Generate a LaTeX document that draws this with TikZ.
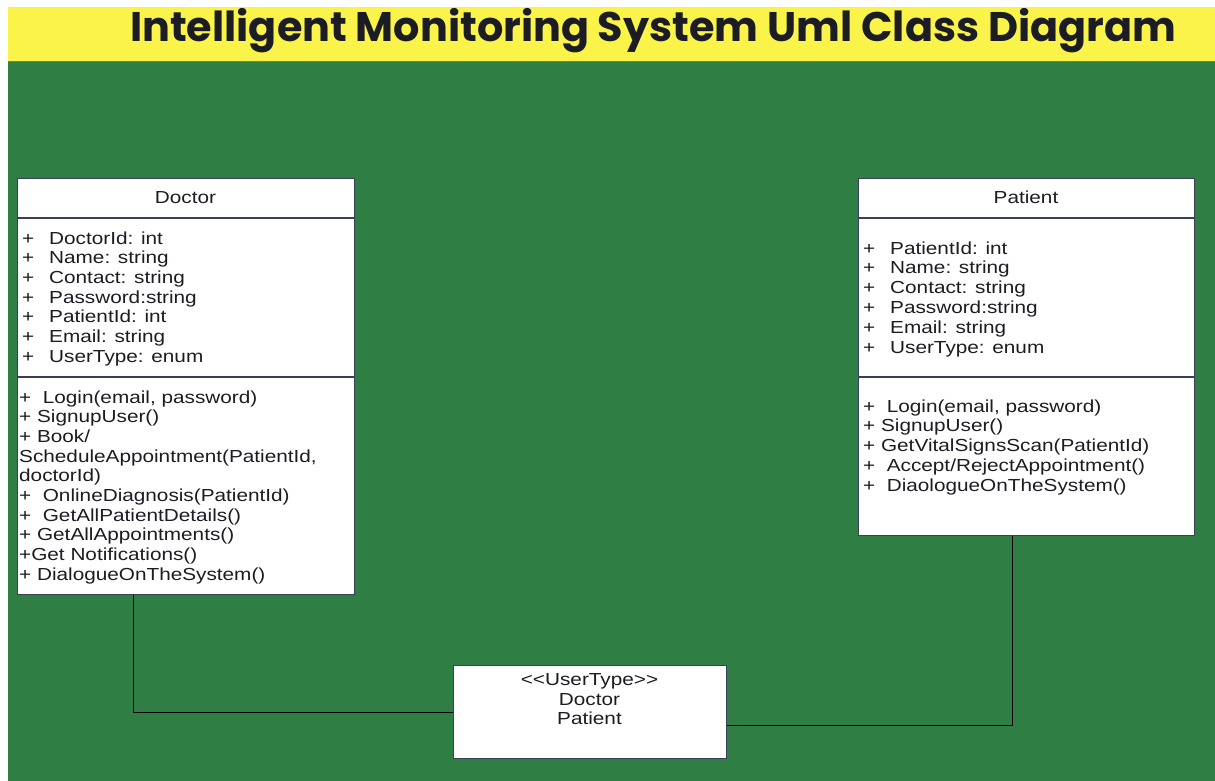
\documentclass[tikz,border=0pt]{standalone}
\usepackage{fontspec}
\setmainfont{Liberation Sans}[FakeStretch=1.19]
\newfontfamily\titlefont{Poppins}
\usetikzlibrary{positioning}

\definecolor{banner}{RGB}{250,244,74}
\definecolor{bgreen}{RGB}{47,127,69}
\definecolor{boxline}{RGB}{58,63,88}
\definecolor{txt}{RGB}{28,28,36}

\tikzset{
  classbox/.style={draw=boxline, line width=1.3bp, fill=white, inner sep=0pt, anchor=north west},
  member/.style={anchor=base west, inner sep=0pt, text=txt, font=\fontsize{17.5}{19.7}\selectfont},
  cname/.style={anchor=base, inner sep=0pt, text=txt, font=\fontsize{17.5}{19.7}\selectfont},
  link/.style={draw=black, line width=1.3bp}
}
\newcommand{\pl}{\makebox[27bp][l]{+}}

\begin{document}
\begin{tikzpicture}[x=1bp,y=-1bp]

  \useasboundingbox (0,0) rectangle (1215,781);
  \fill[white] (0,0) rectangle (1215,781);
  \fill[banner] (8,7) rectangle (1215,61);
  \fill[bgreen] (8,61) rectangle (1215,781);
  \draw[line width=1.2bp, color=olive!70!bgreen] (8,61.5) -- (1215,61.5);

  \node[anchor=base, inner sep=0pt, text=txt, font=\titlefont\bfseries\fontsize{41.5}{44}\selectfont] (title) at (653,42) {Intelligent Monitoring System Uml Class Diagram};

  % Doctor class
  \node[classbox, minimum width=337bp, minimum height=416bp] (doctor) at (17,178) {};
  \draw[boxline, line width=1.3bp] (17,218) -- (354,218);
  \draw[boxline, line width=1.3bp] (17,377) -- (354,377);
  \node[cname] (doctorname) at (185.5,203) {Doctor};
\foreach \t [count=\i] in {DoctorId: int, Name: string, Contact: string, Password:string, PatientId: int, Email: string, UserType: enum} {
  \node[member] (dattr\i) at (22,{244+19.7*(\i-1)}) {\pl\t};
}
\foreach \t [count=\i] in {{+\ \ Login(email, password)}, {+ SignupUser()}, {+ Book/}, {ScheduleAppointment(PatientId,}, {doctorId)}, {+\ \ OnlineDiagnosis(PatientId)}, {+\ \ GetAllPatientDetails()}, {+ GetAllAppointments()}, {+Get Notifications()}, {+ DialogueOnTheSystem()}} {
  \node[member] (dop\i) at (19,{403+19.67*(\i-1)}) {\t};
}

  % Patient class
  \node[classbox, minimum width=336bp, minimum height=357bp] (patient) at (858,178) {};
  \draw[boxline, line width=1.3bp] (858,218) -- (1194,218);
  \draw[boxline, line width=1.3bp] (858,377) -- (1194,377);
  \node[cname] (patientname) at (1026,203) {Patient};
\foreach \t [count=\i] in {PatientId: int, Name: string, Contact: string, Password:string, Email: string, UserType: enum} {
  \node[member] (pattr\i) at (863,{254+19.8*(\i-1)}) {\pl\t};
}
\foreach \t [count=\i] in {{+\ \ Login(email, password)}, {+ SignupUser()}, {+ GetVitalSignsScan(PatientId)}, {+\ \ Accept/RejectAppointment()}, {+\ \ DiaologueOnTheSystem()}} {
  \node[member] (pop\i) at (863,{412+19.9*(\i-1)}) {\t};
}

  % enumeration
  \node[classbox, minimum width=273bp, minimum height=93bp] (usertype) at (453,665) {};
  \node[cname] (ut1) at (589.5,685) {<{}<UserType>{}>};
  \node[cname] (ut2) at (589.5,705) {Doctor};
  \node[cname] (ut3) at (589.5,724) {Patient};

  \draw[link] ([xshift=-52.5bp]doctor.south) |- (usertype.west);
  \draw[link] ([xshift=-14bp]patient.south) |- ([yshift=-13.5bp]usertype.east);

\end{tikzpicture}
\end{document}
